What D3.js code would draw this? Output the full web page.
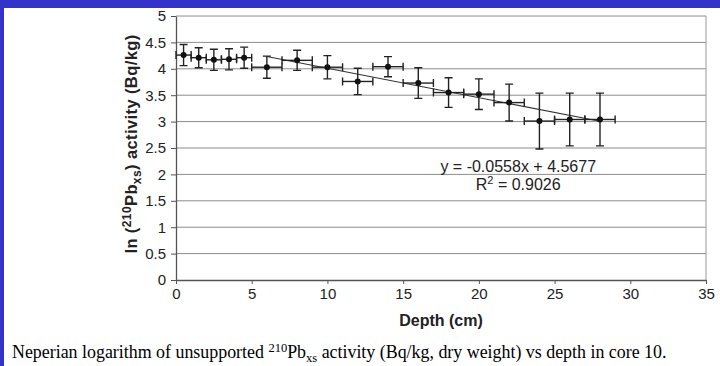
<!DOCTYPE html>
<html>
<head>
<meta charset="utf-8">
<script src="https://cdn.jsdelivr.net/npm/d3@7"></script>
<style>
  body { margin: 0; background: #fff; }
  svg { display: block; }
  text { font-family: "Liberation Sans", Arial, sans-serif; fill: #222; }
  .caption { font-family: "Liberation Serif", "Times New Roman", serif; fill: #000; }
</style>
</head>
<body>
<div id="chart"></div>
<script>
// Core 10 measurements: depth (cm) and ln of 210Pb_xs activity
var depths = [0.5, 1.5, 2.5, 3.5, 4.5, 6, 8, 10, 12, 14, 16, 18, 20, 22, 24, 26, 28];
var lnActivity = [4.26, 4.21, 4.17, 4.18, 4.21, 4.03, 4.16, 4.03, 3.76, 4.04, 3.73, 3.55, 3.52, 3.36, 3.01, 3.04, 3.04];
var activityErr = [0.2, 0.19, 0.2, 0.2, 0.2, 0.21, 0.19, 0.22, 0.25, 0.19, 0.29, 0.28, 0.29, 0.35, 0.53, 0.5, 0.5];
var depthErr = [0.5, 0.5, 0.5, 0.5, 0.5, 1, 1, 1, 1, 1, 1, 1, 1, 1, 1, 1, 1];

var xTicks = [0, 5, 10, 15, 20, 25, 30, 35];
var yTicks = [0, 0.5, 1, 1.5, 2, 2.5, 3, 3.5, 4, 4.5, 5];

// linear fit reported on the figure, drawn over 6-28 cm
var fitSlope = -0.0558;
var fitIntercept = 4.5677;
var fitRange = [6, 28];

var width = 720, height = 366;
var margin = {top: 16, right: 14, bottom: 86, left: 176};
var plotW = width - margin.left - margin.right;
var plotH = height - margin.top - margin.bottom;

var svg = d3.select("#chart").append("svg")
  .attr("width", width)
  .attr("height", height);

// slide frame (blue bars)
svg.append("rect").attr("x", 0).attr("y", 0).attr("width", width).attr("height", 8).attr("fill", "#3333cc");
svg.append("rect").attr("x", 0).attr("y", 0).attr("width", 4).attr("height", height).attr("fill", "#3333cc");

var x = d3.scaleLinear().domain([0, 35]).range([0, plotW]);
var y = d3.scaleLinear().domain([0, 5]).range([plotH, 0]);

var g = svg.append("g").attr("transform", "translate(" + margin.left + "," + margin.top + ")");

// horizontal gridlines
g.selectAll(".grid")
  .data(yTicks.filter(function(d) { return d > 0; }))
  .enter().append("line")
  .attr("x1", 0).attr("x2", plotW)
  .attr("y1", function(d) { return y(d); })
  .attr("y2", function(d) { return y(d); })
  .attr("stroke", "#8c8c8c")
  .attr("stroke-width", 1);

// right border
g.append("line")
  .attr("x1", plotW).attr("x2", plotW)
  .attr("y1", 0).attr("y2", plotH)
  .attr("stroke", "#9a9a9a");

// axes
var xAxis = g.append("g")
  .attr("transform", "translate(0," + plotH + ")")
  .call(d3.axisBottom(x).tickValues(xTicks).tickFormat(d3.format("")).tickSize(4).tickPadding(4).tickSizeOuter(0));
var yAxis = g.append("g")
  .call(d3.axisLeft(y).tickValues(yTicks).tickFormat(d3.format("")).tickSize(5).tickPadding(5).tickSizeOuter(0));

[xAxis, yAxis].forEach(function(a) {
  a.select(".domain").attr("stroke", "#555").attr("stroke-width", 1.3);
  a.selectAll(".tick line").attr("stroke", "#555");
  a.selectAll(".tick text").style("font-size", "15px").attr("fill", "#222");
});

// trend line
g.append("line")
  .attr("x1", x(fitRange[0])).attr("y1", y(fitSlope * fitRange[0] + fitIntercept))
  .attr("x2", x(fitRange[1])).attr("y2", y(fitSlope * fitRange[1] + fitIntercept))
  .attr("stroke", "#333")
  .attr("stroke-width", 1.1);

var points = depths.map(function(d, i) {
  return {depth: d, value: lnActivity[i], ey: activityErr[i], ex: depthErr[i]};
});

var cap = 4;
var bars = g.selectAll(".pt").data(points).enter().append("g")
  .attr("stroke", "#222")
  .attr("stroke-width", 1.4)
  .attr("fill", "none");

// vertical error bars with caps
bars.append("line")
  .attr("x1", function(d) { return x(d.depth); })
  .attr("x2", function(d) { return x(d.depth); })
  .attr("y1", function(d) { return y(d.value + d.ey); })
  .attr("y2", function(d) { return y(d.value - d.ey); });
bars.append("path")
  .attr("d", function(d) {
    var cx = x(d.depth);
    return "M" + (cx - cap) + "," + y(d.value + d.ey) + "H" + (cx + cap) +
      "M" + (cx - cap) + "," + y(d.value - d.ey) + "H" + (cx + cap);
  });

// horizontal error bars with caps
bars.append("line")
  .attr("x1", function(d) { return x(d.depth - d.ex); })
  .attr("x2", function(d) { return x(d.depth + d.ex); })
  .attr("y1", function(d) { return y(d.value); })
  .attr("y2", function(d) { return y(d.value); });
bars.append("path")
  .attr("d", function(d) {
    var cy = y(d.value);
    return "M" + x(d.depth - d.ex) + "," + (cy - cap) + "V" + (cy + cap) +
      "M" + x(d.depth + d.ex) + "," + (cy - cap) + "V" + (cy + cap);
  });

bars.append("circle")
  .attr("cx", function(d) { return x(d.depth); })
  .attr("cy", function(d) { return y(d.value); })
  .attr("r", 3)
  .attr("fill", "#111")
  .attr("stroke", "none");

// equation label
var eqX = x(22.6);
g.append("text")
  .attr("x", eqX).attr("y", y(2.05))
  .attr("text-anchor", "middle")
  .style("font-size", "16px")
  .text("y = -0.0558x + 4.5677");
var r2 = g.append("text")
  .attr("x", eqX).attr("y", y(1.7))
  .attr("text-anchor", "middle")
  .style("font-size", "16px");
r2.append("tspan").text("R");
r2.append("tspan").attr("dy", -6).style("font-size", "11px").text("2");
r2.append("tspan").attr("dy", 6).text(" = 0.9026");

// axis titles
svg.append("text")
  .attr("x", margin.left + plotW / 2)
  .attr("y", 326)
  .attr("text-anchor", "middle")
  .style("font-size", "16px")
  .style("font-weight", "bold")
  .text("Depth (cm)");

var yl = svg.append("text")
  .attr("transform", "translate(137,144) rotate(-90)")
  .attr("text-anchor", "middle")
  .style("font-size", "16.5px")
  .style("font-weight", "bold")
  .style("letter-spacing", "0.4px");
yl.append("tspan").text("ln (");
yl.append("tspan").attr("dy", -6).style("font-size", "12px").text("210");
yl.append("tspan").attr("dy", 6).text("Pb");
yl.append("tspan").attr("dy", 4).style("font-size", "12px").text("xs");
yl.append("tspan").attr("dy", -4).text(") activity (Bq/kg)");

// figure caption
var cap1 = svg.append("text")
  .attr("class", "caption")
  .attr("x", 12).attr("y", 358)
  .style("font-size", "17.9px");
cap1.append("tspan").text("Neperian logarithm of unsupported ");
cap1.append("tspan").attr("dy", -6).style("font-size", "12.5px").text("210");
cap1.append("tspan").attr("dy", 6).text("Pb");
cap1.append("tspan").attr("dy", 4).style("font-size", "12.5px").text("xs");
cap1.append("tspan").attr("dy", -4).text(" activity (Bq/kg, dry weight) vs depth in core 10.");
</script>
</body>
</html>
